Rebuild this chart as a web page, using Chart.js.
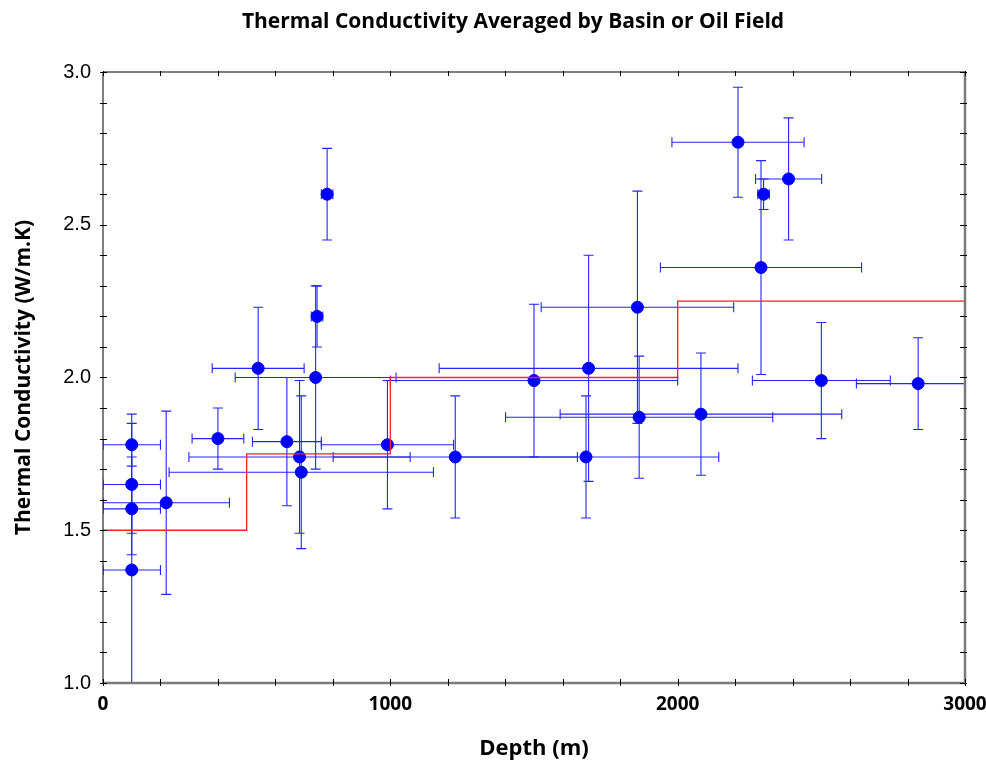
<!DOCTYPE html>
<html lang="en">
<head>
  <meta charset="UTF-8">
  <title>Thermal Conductivity Averaged by Basin or Oil Field</title>
  <script src="https://cdn.jsdelivr.net/npm/chart.js"></script>
  <style>
    body { margin: 0; background: #fff; }
    canvas { display: block; }
  </style>
</head>
<body>
  <canvas id="tcChart" width="986" height="760"></canvas>

  <script>
    // averaged points (depth in m, conductivity in W/m.K) with their half-ranges
    const depth    = [100, 100, 100, 100, 220, 400, 540, 640, 684, 690, 740, 745, 780, 990, 1226, 1500, 1681, 1690, 1860, 1866, 2081, 2210, 2290, 2299, 2386, 2500, 2837];
    const conduct  = [1.78, 1.65, 1.57, 1.37, 1.59, 1.80, 2.03, 1.79, 1.74, 1.69, 2.00, 2.20, 2.60, 1.78, 1.74, 1.99, 1.74, 2.03, 2.23, 1.87, 1.88, 2.77, 2.36, 2.60, 2.65, 1.99, 1.98];
    const depthErr = [100, 100, 100, 100, 220, 90, 160, 120, 385, 460, 280, 20, 20, 230, 425, 500, 462, 520, 335, 465, 490, 230, 350, 20, 115, 240, 215];
    const condErr  = [0.07, 0.23, 0.08, 0.37, 0.30, 0.10, 0.20, 0.21, 0.25, 0.25, 0.30, 0.10, 0.15, 0.21, 0.20, 0.25, 0.20, 0.37, 0.38, 0.20, 0.20, 0.18, 0.35, 0.05, 0.20, 0.19, 0.15];

    // red step line (model average per depth band)
    const stepDepth = [0, 500, 1000, 2000, 3000];
    const stepCond  = [1.5, 1.75, 2.0, 2.25, 2.25];

    const chartTitle = "Thermal Conductivity Averaged by Basin or Oil Field";

    const points = depth.map((d, i) => ({ x: d, y: conduct[i] }));
    const steps = stepDepth.map((d, i) => ({ x: d, y: stepCond[i] }));

    // error bars, drawn through the chart scales
    const errorBars = {
      id: "errorBars",
      beforeDatasetsDraw(chart) {
        const { ctx, chartArea: a, scales: { x, y } } = chart;
        const cap = 5;
        ctx.save();
        ctx.beginPath();
        ctx.rect(a.left, a.top, a.right - a.left, a.bottom - a.top);
        ctx.clip();
        ctx.strokeStyle = "#2424ff";
        ctx.lineWidth = 1.1;
        depth.forEach((d, i) => {
          const px = x.getPixelForValue(d);
          const py = y.getPixelForValue(conduct[i]);
          const x0 = x.getPixelForValue(d - depthErr[i]);
          const x1 = x.getPixelForValue(d + depthErr[i]);
          const y0 = y.getPixelForValue(conduct[i] - condErr[i]);
          const y1 = y.getPixelForValue(conduct[i] + condErr[i]);
          ctx.beginPath();
          ctx.moveTo(x0, py); ctx.lineTo(x1, py);
          ctx.moveTo(x0, py - cap); ctx.lineTo(x0, py + cap);
          ctx.moveTo(x1, py - cap); ctx.lineTo(x1, py + cap);
          ctx.moveTo(px, y0); ctx.lineTo(px, y1);
          ctx.moveTo(px - cap, y0); ctx.lineTo(px + cap, y0);
          ctx.moveTo(px - cap, y1); ctx.lineTo(px + cap, y1);
          ctx.stroke();
        });
        ctx.restore();
      }
    };

    // box frame with small ticks on every side, plus the title
    const frame = {
      id: "frame",
      afterDraw(chart) {
        const { ctx, chartArea: a, scales: { x, y } } = chart;
        ctx.save();
        ctx.lineWidth = 1;
        ctx.strokeStyle = "#000";
        ctx.beginPath();
        ctx.moveTo(a.left, a.bottom); ctx.lineTo(a.left, a.top); ctx.lineTo(a.right, a.top);
        ctx.stroke();
        ctx.strokeStyle = "#7a7a7a";
        ctx.lineWidth = 2.5;
        ctx.beginPath();
        ctx.moveTo(a.left, a.bottom); ctx.lineTo(a.right, a.bottom); ctx.lineTo(a.right, a.top);
        ctx.stroke();

        ctx.lineWidth = 1;
        ctx.strokeStyle = "#000";
        ctx.beginPath();
        for (let v = 1.0; v <= 3.0001; v += 0.1) {
          const py = Math.round(y.getPixelForValue(v)) + 0.5;
          ctx.moveTo(a.left - 3, py); ctx.lineTo(a.left + 4, py);
          ctx.moveTo(a.right - 5, py); ctx.lineTo(a.right + 2, py);
        }
        for (let d = 0; d <= 3000; d += 200) {
          const px = Math.round(x.getPixelForValue(d)) + 0.5;
          ctx.moveTo(px, a.top - 1); ctx.lineTo(px, a.top + 4);
          ctx.moveTo(px, a.bottom - 4); ctx.lineTo(px, a.bottom + 3);
        }
        ctx.stroke();

        ctx.fillStyle = "#000";
        ctx.font = "bold 21px 'Open Sans'";
        ctx.textAlign = "center";
        ctx.textBaseline = "middle";
        ctx.fillText(chartTitle, 513, 22);
        ctx.restore();
      }
    };

    new Chart(document.getElementById("tcChart").getContext("2d"), {
      type: "scatter",
      data: {
        datasets: [
          {
            type: "line",
            data: steps,
            stepped: "before",
            borderColor: "#ff2020",
            borderWidth: 1.3,
            pointRadius: 0,
            fill: false
          },
          {
            data: points,
            backgroundColor: "#0000ff",
            borderColor: "#0000ff",
            pointRadius: 6,
            pointHoverRadius: 6
          }
        ]
      },
      options: {
        responsive: false,
        animation: false,
        layout: { padding: { top: 72, right: 0, left: 0, bottom: 0 } },
        plugins: {
          legend: { display: false },
          tooltip: { enabled: false }
        },
        scales: {
          x: {
            type: "linear",
            min: 0,
            max: 3000,
            afterFit: (s) => { s.height = 77; s.paddingLeft = 0; s.paddingRight = 21; },
            grid: { display: false, drawTicks: false },
            border: { display: false },
            ticks: {
              stepSize: 1000,
              padding: 10,
              color: "#000",
              font: { family: "Open Sans", size: 19, weight: "bold" },
              callback: (v) => String(v)
            },
            title: {
              display: true,
              text: "Depth (m)",
              color: "#000",
              padding: { top: 0, bottom: -2 },
              font: { family: "Open Sans", size: 22, weight: "bold" }
            }
          },
          y: {
            min: 1,
            max: 3,
            afterFit: (s) => { s.width = 103; },
            grid: { display: false, drawTicks: false },
            border: { display: false },
            ticks: {
              stepSize: 0.5,
              padding: 12,
              color: "#000",
              font: { family: "Liberation Sans", size: 20 },
              callback: (v) => v.toFixed(1)
            },
            title: {
              display: true,
              text: "Thermal Conductivity (W/m.K)",
              color: "#000",
              padding: { top: 11, bottom: 0 },
              font: { family: "Open Sans", size: 21, weight: "bold" }
            }
          }
        }
      },
      plugins: [errorBars, frame]
    });
  </script>
</body>
</html>
